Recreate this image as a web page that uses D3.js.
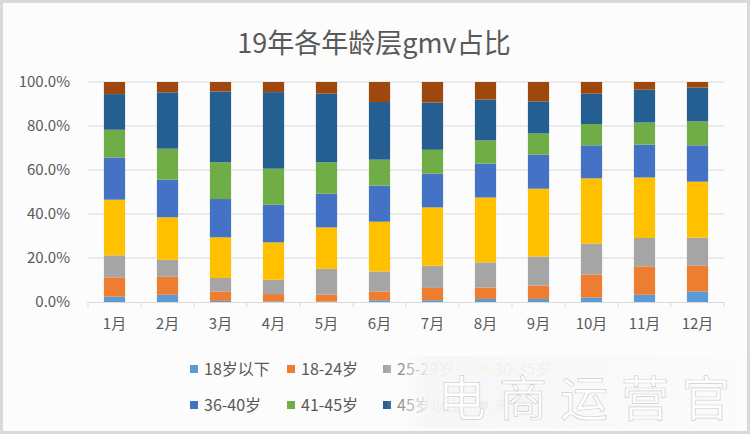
<!DOCTYPE html>
<html><head><meta charset="utf-8">
<script src="https://cdn.jsdelivr.net/npm/d3@7"></script>
<style>
html,body{margin:0;padding:0;background:#fff;}
svg{display:block;font-family:"Noto Sans CJK SC","Noto Sans",sans-serif;}
</style></head>
<body><svg id="c" width="750" height="434"></svg>
<script>
const months = ["1月","2月","3月","4月","5月","6月","7月","8月","9月","10月","11月","12月"];
const seriesNames = ["18岁以下","18-24岁","25-29岁","30-35岁","36-40岁","41-45岁","45岁以上","未知"];
const seriesColors = ["#5B9BD5","#ED7D31","#A5A5A5","#FFC000","#4472C4","#70AD47","#255E91","#9E480E"];
const under18  = [2.4,3.3,0.5,0.3,0.2,0.8,0.8,1.4,1.4,2.0,3.3,4.8];
const age18_24 = [8.8,8.2,4.3,3.3,3.1,4.0,5.6,5.2,6.1,10.5,12.9,11.8];
const age25_29 = [10.0,7.7,6.1,6.5,11.8,9.1,10.1,11.4,13.2,14.0,12.9,12.6];
const age30_35 = [25.3,19.3,18.5,17.0,18.8,22.6,26.5,29.5,30.8,29.7,27.5,25.5];
const age36_40 = [19.2,17.1,17.4,17.1,15.3,16.4,15.3,15.4,15.5,15.0,14.9,16.5];
const age41_45 = [12.6,14.1,16.7,16.4,14.3,11.8,10.9,10.6,9.6,9.7,10.1,10.9];
const over45   = [16.2,25.6,32.2,34.8,31.2,26.2,21.5,18.5,14.6,13.8,14.9,15.4];
const unknown  = [5.5,4.7,4.3,4.6,5.3,9.1,9.3,8.0,8.8,5.3,3.5,2.5];
const yTicks = [0,0.2,0.4,0.6,0.8,1.0];
const titleText = "19年各年龄层gmv占比";
const watermark = "电商运营官";

const seriesVals = [under18,age18_24,age25_29,age30_35,age36_40,age41_45,over45,unknown];
const rows = months.map((m,i)=>{
  const r = {month:m};
  const tot = d3.sum(seriesVals, s=>s[i]);
  seriesNames.forEach((n,k)=>{ r[n] = seriesVals[k][i]/tot; });
  return r;
});
const stack = d3.stack().keys(seriesNames)(rows);

const svg = d3.select("#c");
svg.append("rect").attr("x",0).attr("y",0).attr("width",750).attr("height",434).attr("fill","#d9d9d9");
svg.append("rect").attr("x",3).attr("y",3).attr("width",744).attr("height",428).attr("fill","#fcfcfc");

const m = {l:88, r:724, t:82, b:302};
const x = d3.scaleBand().domain(months).range([m.l,m.r]).paddingInner(0.6).paddingOuter(0.3);
const y = d3.scaleLinear().domain([0,1]).range([m.b,m.t]);
const txt = "#595959";

svg.append("text").attr("x",374).attr("y",53).attr("text-anchor","middle")
  .attr("font-size",27).attr("fill",txt).text(titleText);

// gridlines
svg.append("g").selectAll("line").data(yTicks.filter(d=>d>0)).join("line")
  .attr("x1",m.l).attr("x2",m.r).attr("y1",d=>y(d)).attr("y2",d=>y(d))
  .attr("stroke","#d9d9d9").attr("stroke-width",1);

// y labels
const yAxis = d3.axisLeft(y).tickValues(yTicks).tickFormat(d3.format(".1%")).tickSize(0).tickPadding(18);
const ya = svg.append("g").attr("transform",`translate(${m.l},0)`).call(yAxis);
ya.select(".domain").remove();
ya.selectAll("text").attr("font-size",15).attr("fill",txt).attr("font-family","'Noto Sans CJK SC',sans-serif");

// bars
svg.append("g").selectAll("g").data(stack).join("g")
  .attr("fill",(d,i)=>seriesColors[i])
  .selectAll("rect").data(d=>d).join("rect")
  .attr("x",d=>x(d.data.month)).attr("width",x.bandwidth())
  .attr("y",d=>y(d[1])).attr("height",d=>y(d[0])-y(d[1]));

// x axis
const xa = svg.append("g").attr("transform",`translate(0,${m.b})`).call(d3.axisBottom(x).tickSize(0).tickPadding(16));
xa.select(".domain").attr("stroke","#d9d9d9").attr("d",`M${m.l},0.5H${m.r}`);
xa.selectAll("text").attr("font-size",15).attr("fill",txt).attr("font-family","'Noto Sans CJK SC',sans-serif");
svg.append("g").selectAll("line").data(d3.range(months.length+1)).join("line")
  .attr("x1",i=> m.l + (m.r-m.l)*i/months.length).attr("x2",i=> m.l + (m.r-m.l)*i/months.length)
  .attr("y1",m.b).attr("y2",m.b+5).attr("stroke","#d9d9d9");

// legend
const cols = [190,287,383,480];
const legY = [369,405];
const lg = svg.append("g").selectAll("g").data(seriesNames).join("g")
  .attr("transform",(d,i)=>`translate(${cols[i%4]},${legY[Math.floor(i/4)]})`);
lg.append("rect").attr("x",0).attr("y",-4).attr("width",8).attr("height",8).attr("fill",(d,i)=>seriesColors[i]);
lg.append("text").attr("x",14).attr("y",0).attr("dy","0.36em").attr("font-size",16).attr("fill",txt).text(d=>d);

// watermark overlay (present in the reference image)
const defs = svg.append("defs");
const gr = defs.append("linearGradient").attr("id","wm").attr("x1","0").attr("x2","1").attr("y1","0").attr("y2","0");
gr.append("stop").attr("offset","0").attr("stop-color","#ffffff").attr("stop-opacity",0);
gr.append("stop").attr("offset","0.12").attr("stop-color","#f6f6f6").attr("stop-opacity",0.95);
gr.append("stop").attr("offset","1").attr("stop-color","#fbfbfb").attr("stop-opacity",0.95);
svg.append("rect").attr("x",385).attr("y",356).attr("width",362).attr("height",72).attr("fill","url(#wm)");
svg.append("g").selectAll("text").data(watermark.split("")).join("text")
  .attr("x",(d,i)=>462+i*61).attr("y",416).attr("text-anchor","middle")
  .attr("font-size",48).attr("fill","#ffffff")
  .attr("stroke","#d0d0d0").attr("stroke-width",0.7).text(d=>d);
</script></body></html>
